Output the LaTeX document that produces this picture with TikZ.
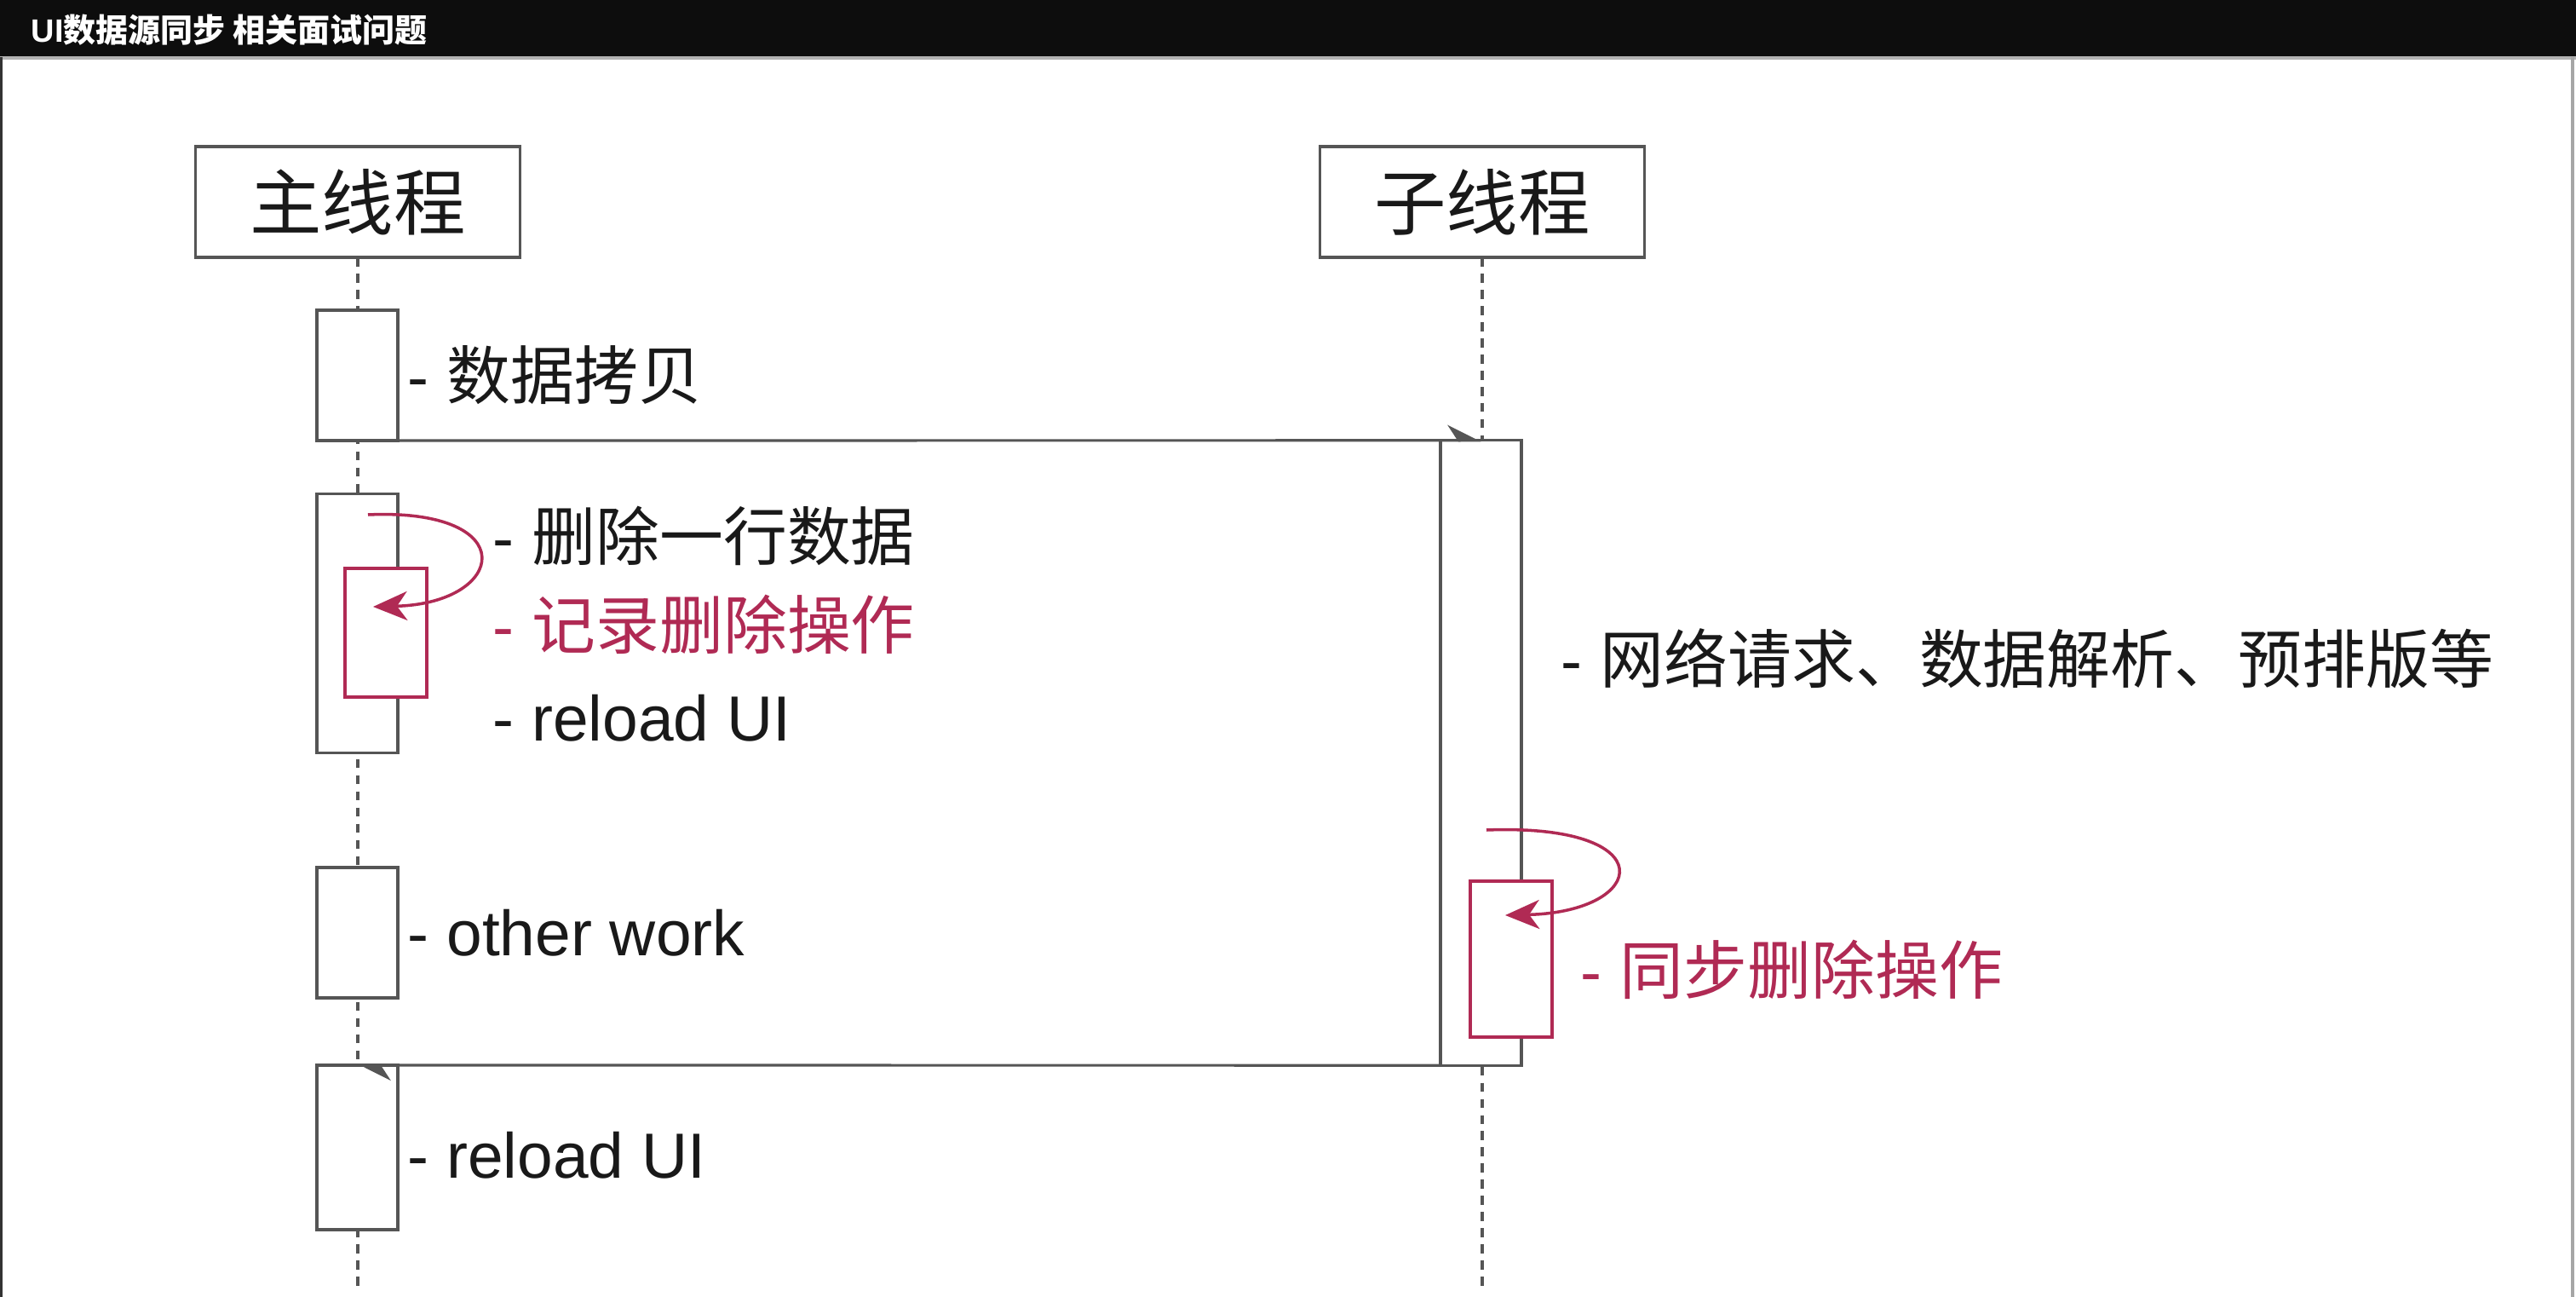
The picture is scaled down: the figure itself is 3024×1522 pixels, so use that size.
\documentclass[tikz,border=0pt]{standalone}
\usepackage{fontspec}
\setmainfont{Liberation Sans}
\newfontfamily\cjk{Noto Sans CJK SC}
\usetikzlibrary{arrows.meta}
\definecolor{accent}{RGB}{176,42,84}
\definecolor{edge}{RGB}{85,85,85}
\definecolor{ink}{RGB}{25,25,25}
\begin{document}
\begin{tikzpicture}[x=0.01cm,y=-0.01cm,
  box/.style={draw=edge, line width=0.9pt, fill=white, inner sep=0pt, outer sep=0pt},
  head/.style={box, minimum width=3.81cm, minimum height=1.30cm, font=\cjk\fontsize{24pt}{28pt}\selectfont, text=ink},
  act/.style={box, minimum width=0.95cm},
  redact/.style={draw=accent, line width=0.9pt, fill=white, inner sep=0pt, outer sep=0pt, minimum width=0.96cm},
  life/.style={draw=edge, line width=1pt, dash pattern=on 3pt off 2.4pt},
  lbl/.style={anchor=west, inner sep=0pt, font=\fontsize{21.3pt}{25pt}\selectfont, text=ink},
  redlbl/.style={lbl, text=accent},
  msg/.style={draw=edge, line width=0.9pt, -{Stealth[harpoon, length=0.36cm, width=0.36cm]}},
  selfloop/.style={draw=accent, line width=1pt, -{Stealth[length=0.4cm, width=0.34cm, inset=0.12cm]}},
]
\useasboundingbox (0,0) rectangle (3024,1522);
\fill[white] (0,0) rectangle (3024,1522);
% title bar
\fill[black!95] (0,0) rectangle (3024,67);
\draw[gray!60, line width=1pt] (0,68) -- (3024,68);
\draw[black!80, line width=1.2pt] (1,67) -- (1,1522);
\draw[gray!70, line width=1.2pt] (3020,67) -- (3020,1522);
\node[anchor=west, inner sep=0pt, text=white, font=\fontsize{10.8pt}{13pt}\selectfont\bfseries] (title) at (36,35) {UI{\cjk 数据源同步 相关面试问题}};

% headers
\node[head] (mainh) at (420,237) {主线程};
\node[head] (subh) at (1740,237) {子线程};
\coordinate (mainend) at (420,1510);
\coordinate (subend) at (1740,1510);
\draw[life] (mainh.south) -- (mainend);
\draw[life] (subh.south) -- (subend);

% activation boxes
\node[act, minimum height=1.53cm] (a1) at (419.5,440.5) {};
\node[act, minimum height=3.03cm] (a2) at (419.5,731.5) {};
\node[act, minimum height=1.53cm] (a3) at (419.5,1094.5) {};
\node[act, minimum height=1.93cm] (a4) at (419.5,1346.5) {};
\node[act, minimum height=7.33cm] (s1) at (1738.5,883.5) {};
\node[redact, minimum height=1.51cm] (r1) at (453,742.5) {};
\node[redact, minimum height=1.83cm] (r2) at (1774,1125.5) {};

% messages
\draw[msg] (a1.south east) -- (s1.north);
\draw[msg] (s1.south west) -- (a4.north);

% self loops
\coordinate (l1s) at (432,604);
\coordinate (l1e) at (438,712);
\draw[selfloop] (l1s) .. controls (615,596) and (595,708) .. (l1e);
\coordinate (l2s) at (1745,974);
\coordinate (l2e) at (1767,1074);
\draw[selfloop] (l2s) .. controls (1955,966) and (1935,1070) .. (l2e);

% labels
\node[lbl] (t1) at (478,440) {- {\cjk 数据拷贝}};
\node[lbl] (t2) at (578,629) {- {\cjk 删除一行数据}};
\node[redlbl] (t3) at (578,733) {- {\cjk 记录删除操作}};
\node[lbl] (t4) at (578,843) {- reload UI};
\node[lbl] (t5) at (478,1095) {- other work};
\node[lbl] (t6) at (478,1356) {- reload UI};
\node[lbl] (t7) at (1832,773) {- {\cjk 网络请求、数据解析、预排版等}};
\node[redlbl] (t8) at (1855,1138) {- {\cjk 同步删除操作}};
\end{tikzpicture}
\end{document}
